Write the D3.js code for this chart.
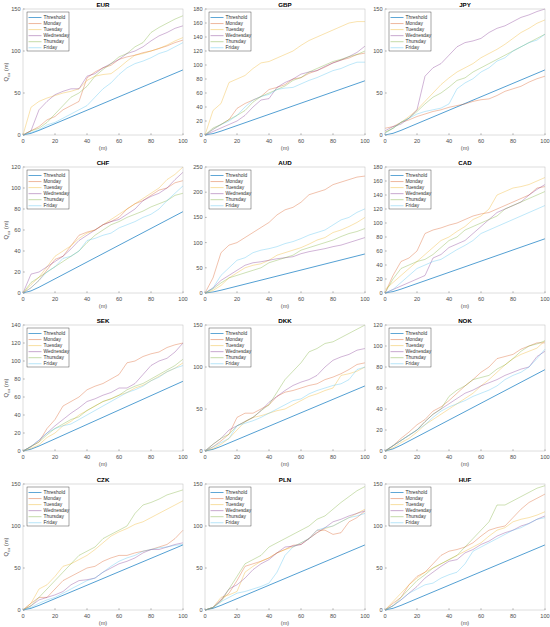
<!DOCTYPE html>
<html>
<head>
<meta charset="utf-8">
<script src="https://cdn.jsdelivr.net/npm/d3@7"></script>
<style>
  body { margin:0; background:#fff; }
  svg text { font-family: "Liberation Sans", Arial, sans-serif; }
</style>
</head>
<body>
<svg id="chart" width="550" height="627"></svg>
<script>
/* 12 small multiples: cumulative Q_cu per weekday vs threshold */

const xs = [0,5,10,15,20,25,30,35,40,45,50,55,60,65,70,75,80,85,90,95,100];
const threshold = [0,2,5.5,9.5,13.5,17.5,21.5,25.5,29.5,33.5,37.5,41.5,45.5,49.5,53.5,57.5,61.5,65.5,69.5,73.5,77.5];

const seriesNames = ["Threshold","Monday","Tuesday","Wednesday","Thursday","Friday"];
const seriesColors = ["#0072BD","#D95319","#EDB120","#7E2F8E","#77AC30","#4DBEEE"];

const currencies = ["EUR","GBP","JPY","CHF","AUD","CAD","SEK","DKK","NOK","CZK","PLN","HUF"];
const yMax  = [150,180,150,120,250,180,140,150,120,150,150,150];
const yStep = [50,20,50,20,50,20,20,50,20,50,50,50];

// rows: Monday, Tuesday, Wednesday, Thursday, Friday (values at xs)
const EUR = [
  [0,5,10,18,22,30,35,40,68,75,80,83,90,93,95,98,100,103,106,110,113],
  [0,33,40,44,47,50,52,55,65,70,72,73,80,88,95,97,100,103,107,112,116],
  [0,5,30,40,48,52,55,55,70,73,80,85,90,97,100,105,112,118,122,127,130],
  [0,5,8,15,25,35,45,50,58,70,78,85,93,97,105,110,122,128,133,138,142],
  [0,3,6,12,15,20,25,30,35,45,55,62,72,80,85,88,92,97,100,105,110]
];
const GBP = [
  [0,8,15,22,38,45,50,55,65,68,72,80,82,88,92,97,103,107,110,115,117],
  [0,35,45,75,80,85,95,103,105,110,115,120,128,135,140,145,150,155,160,162,162],
  [0,5,10,15,20,28,40,50,52,68,75,80,87,90,92,98,103,107,112,118,127],
  [0,10,15,22,28,35,47,55,60,65,70,78,82,90,95,100,105,108,112,115,120],
  [0,8,15,20,28,40,50,55,58,65,67,68,73,78,82,87,92,95,100,104,104]
];
const JPY = [
  [8,10,15,18,22,25,28,30,33,35,37,40,42,43,47,52,55,58,63,67,70],
  [3,8,15,22,30,40,50,60,68,75,80,85,92,97,102,108,115,122,127,133,137],
  [5,10,13,20,30,70,80,85,95,105,110,112,115,122,127,130,135,140,143,147,150],
  [3,8,15,20,28,37,45,50,57,65,68,75,80,85,90,95,100,105,110,115,120],
  [2,8,15,20,25,28,30,32,37,55,62,67,75,80,88,92,100,105,110,113,120]
];
const CHF = [
  [0,5,12,22,32,35,45,55,58,60,65,68,72,80,85,88,93,98,100,105,107],
  [0,8,15,25,35,40,45,52,57,60,65,70,75,80,85,90,95,100,108,113,120],
  [0,18,20,25,30,35,42,50,55,60,65,68,70,75,80,88,92,95,100,108,115],
  [0,10,15,20,25,30,35,40,48,55,60,65,68,72,75,78,82,85,88,93,95],
  [0,5,12,20,25,33,35,40,50,52,55,57,62,65,68,72,75,80,88,95,102]
];
const AUD = [
  [0,30,80,95,100,110,120,130,140,155,165,170,180,195,200,205,215,220,225,230,232],
  [0,5,15,30,40,50,55,58,65,75,80,85,90,97,105,110,120,125,132,140,150],
  [0,10,25,35,45,55,60,62,65,68,70,72,78,82,85,88,92,95,100,105,110],
  [0,8,20,30,35,40,45,50,60,65,70,75,85,90,95,100,105,112,118,122,128],
  [0,10,35,50,65,70,80,85,88,92,98,102,108,115,120,125,135,145,150,160,167]
];
const CAD = [
  [0,25,45,50,60,85,90,93,97,100,105,110,113,115,120,125,130,135,140,150,152],
  [5,15,25,35,45,55,65,75,80,88,95,105,110,120,140,145,150,152,155,160,165],
  [0,5,10,15,20,25,50,55,65,70,75,85,95,105,115,120,125,130,140,148,155],
  [0,20,35,40,45,48,55,65,75,80,90,95,100,105,110,120,125,130,135,140,145],
  [0,5,15,25,35,40,45,48,55,62,68,75,85,90,95,100,105,110,115,120,125]
];
const SEK = [
  [0,5,10,25,35,50,55,60,68,72,75,80,85,98,100,105,108,110,115,118,120],
  [0,3,7,15,20,28,33,40,45,50,55,58,62,65,70,73,78,83,88,92,98],
  [0,5,12,20,28,35,42,48,55,58,62,65,70,70,75,85,95,100,103,110,120],
  [0,5,10,18,25,30,35,38,45,50,55,58,62,68,72,75,80,85,90,95,102],
  [0,5,12,20,25,28,30,35,40,45,50,55,60,65,68,72,78,82,88,92,95]
];
const DKK = [
  [0,5,12,20,40,45,45,50,55,65,70,72,75,78,80,85,88,92,97,103,105],
  [0,3,8,15,25,35,40,42,45,48,50,55,60,65,68,72,75,90,92,95,100],
  [0,8,15,25,30,35,40,48,58,65,72,78,82,85,90,100,108,112,115,120,122],
  [0,8,15,20,30,35,40,48,55,70,85,95,105,118,122,128,130,135,140,145,150],
  [0,5,10,15,30,33,36,40,45,50,55,60,62,68,72,75,78,80,85,97,100]
];
const NOK = [
  [0,5,12,18,25,30,38,42,48,55,62,68,75,80,88,90,92,97,100,103,103],
  [0,3,8,12,18,25,30,35,40,45,50,55,62,68,75,82,88,92,95,98,105],
  [0,5,10,15,20,28,35,40,45,50,55,58,62,65,68,72,75,78,80,90,95],
  [0,5,10,15,20,28,35,40,52,58,62,68,70,72,78,82,88,95,100,102,105],
  [0,5,10,15,20,25,32,38,42,45,48,52,55,58,62,68,72,75,80,88,97]
];
const CZK = [
  [0,8,15,15,25,35,40,45,50,52,58,62,65,65,68,70,72,75,78,85,95],
  [0,8,25,30,40,52,55,60,65,72,80,88,93,97,102,105,110,115,120,125,130],
  [0,5,12,15,18,22,30,35,36,38,45,50,55,58,62,68,72,72,75,78,80],
  [0,5,15,25,35,45,55,65,70,75,85,90,95,100,115,125,128,132,137,140,143],
  [0,3,8,12,15,20,25,30,35,38,45,52,58,62,65,70,72,74,75,77,78]
];
const PLN = [
  [0,3,12,20,35,52,55,58,62,68,72,77,78,85,95,95,90,92,105,110,118],
  [0,3,15,18,22,45,52,58,62,68,72,75,80,85,92,97,100,105,110,115,120],
  [0,3,12,25,30,38,48,55,60,68,75,76,78,85,92,98,105,108,112,115,118],
  [0,3,10,25,40,55,60,65,75,80,85,90,95,100,108,112,120,128,135,142,147],
  [0,3,10,15,20,22,25,28,32,45,65,75,80,85,95,98,100,105,110,112,115]
];
const HUF = [
  [0,8,15,30,40,45,55,65,70,72,75,80,88,95,98,100,110,120,128,133,138],
  [0,10,20,30,38,45,50,55,60,65,70,75,80,88,95,98,105,108,110,113,117],
  [0,5,12,20,28,38,45,52,58,60,68,72,78,82,88,92,95,100,103,108,112],
  [0,5,15,25,35,42,50,55,60,65,75,85,95,105,125,125,130,135,140,145,148],
  [0,5,12,20,25,30,32,38,42,45,55,70,75,80,85,90,95,98,103,108,110]
];
const panelData = [EUR,GBP,JPY,CHF,AUD,CAD,SEK,DKK,NOK,CZK,PLN,HUF];

/* ---------- layout ---------- */
const svg = d3.select("#chart");
const colX = [23, 205, 385];
const rowY = [9, 167, 325, 484];
const pw = 160, ph = 126;
const axisColor = "#262626";
const tickColor = "#4d4d4d";

currencies.forEach((cur, i) => {
  const col = i % 3, row = Math.floor(i / 3);
  const g = svg.append("g").attr("transform", `translate(${colX[col]},${rowY[row]})`);

  const x = d3.scaleLinear().domain([0,100]).range([0,pw]);
  const y = d3.scaleLinear().domain([0,yMax[i]]).range([ph,0]);

  // x ticks
  const xt = d3.range(0,101,20);
  g.selectAll(".xt").data(xt).enter().append("text")
    .attr("x", d => x(d)).attr("y", ph + 7.5)
    .attr("text-anchor","middle").attr("font-size",5.6).attr("fill",tickColor)
    .text(d => d);
  g.selectAll(".xtk").data(xt).enter().append("line")
    .attr("x1", d => x(d)).attr("x2", d => x(d))
    .attr("y1", ph).attr("y2", ph - 1.6)
    .attr("stroke", axisColor).attr("stroke-width",0.4);

  // y ticks
  const yt = d3.range(0, yMax[i] + 0.1, yStep[i]);
  g.selectAll(".yt").data(yt).enter().append("text")
    .attr("x", -2.5).attr("y", d => y(d) + 2)
    .attr("text-anchor","end").attr("font-size",5.6).attr("fill",tickColor)
    .text(d => d);
  g.selectAll(".ytk").data(yt).enter().append("line")
    .attr("x1", 0).attr("x2", 1.6)
    .attr("y1", d => y(d)).attr("y2", d => y(d))
    .attr("stroke", axisColor).attr("stroke-width",0.4);

  const line = d3.line().x((d,k) => x(xs[k])).y(d => y(d));

  // series
  const allSeries = [threshold].concat(panelData[i]);
  allSeries.forEach((vals, s) => {
    g.append("path")
      .attr("d", line(vals))
      .attr("fill","none")
      .attr("stroke", seriesColors[s])
      .attr("stroke-opacity", s === 0 ? 0.75 : 0.6)
      .attr("stroke-width", s === 0 ? 0.9 : 0.6);
  });

  // box
  g.append("rect").attr("x",0).attr("y",0).attr("width",pw).attr("height",ph)
    .attr("fill","none").attr("stroke","#bdbdbd").attr("stroke-width",0.5);

  // title
  g.append("text").attr("x", pw/2).attr("y", -2)
    .attr("text-anchor","middle").attr("font-size",6.2).attr("font-weight","bold")
    .attr("fill","#000").text(cur);

  // x label
  g.append("text").attr("x", pw/2).attr("y", ph + 15)
    .attr("text-anchor","middle").attr("font-size",5.6).attr("fill",tickColor)
    .text("(m)");

  // y label on first column
  if (col === 0) {
    const yl = g.append("text")
      .attr("transform", `translate(-15,${ph/2}) rotate(-90)`)
      .attr("text-anchor","middle").attr("font-size",5.8).attr("fill",tickColor);
    yl.append("tspan").text("Q");
    yl.append("tspan").attr("font-size",4).attr("dy",1.5).text("cu");
    yl.append("tspan").attr("dy",-1.5).text(" (m)");
  }

  // legend
  const lg = g.append("g").attr("transform","translate(4,3)");
  lg.append("rect").attr("width",42).attr("height",39)
    .attr("fill","#fff").attr("stroke","#262626").attr("stroke-width",0.4);
  seriesNames.forEach((name, s) => {
    const ly = 5.5 + s * 6.05;
    lg.append("line").attr("x1",1.5).attr("x2",14.5).attr("y1",ly).attr("y2",ly)
      .attr("stroke", seriesColors[s]).attr("stroke-opacity",0.7)
      .attr("stroke-width", s === 0 ? 0.9 : 0.6);
    lg.append("text").attr("x",16.5).attr("y",ly + 1.7)
      .attr("font-size",4.9).attr("fill","#333").text(name);
  });
});
</script>
</body>
</html>
